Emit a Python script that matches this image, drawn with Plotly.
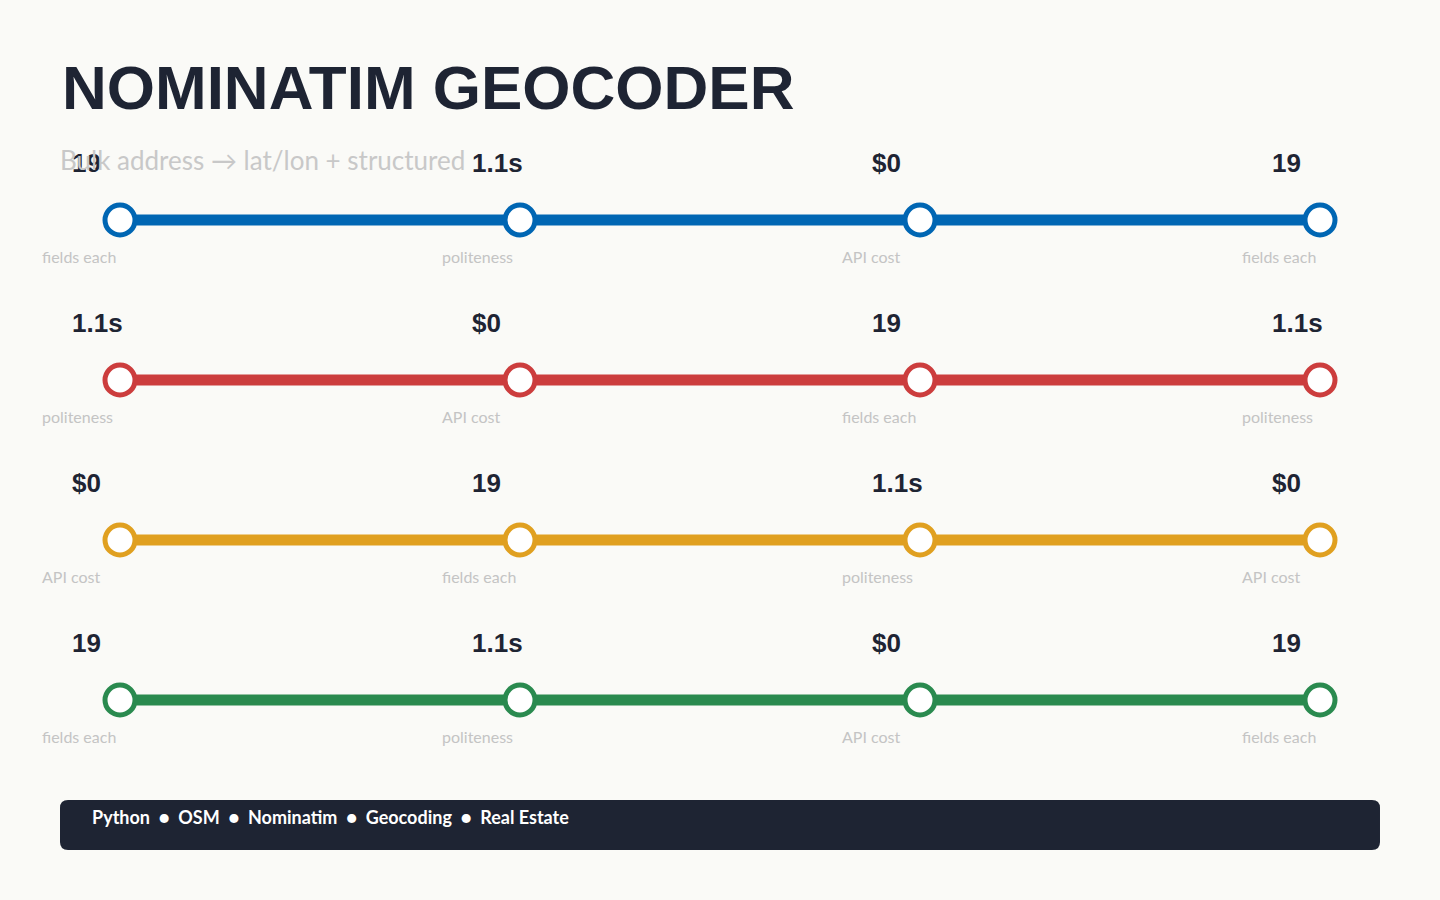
import plotly.graph_objects as go

values = ["19", "1.1s", "$0"]
labels = ["fields each", "politeness", "API cost"]
colors = ["#0066b3", "#cc3d3d", "#e0a020", "#2a8a4f"]
n_stops = 4
tags = ["Python", "OSM", "Nominatim", "Geocoding", "Real Estate"]
title = "NOMINATIM GEOCODER"
subtitle = "Bulk address → lat/lon + structured"

W, H = 1440, 900
fig = go.Figure()
for r, c in enumerate(colors):
    xs = list(range(n_stops))
    ys = [r] * n_stops
    fig.add_trace(go.Scatter(x=xs, y=ys, mode="lines", line=dict(color=c, width=11),
                             hoverinfo="skip", showlegend=False))
    fig.add_trace(go.Scatter(x=xs, y=ys, mode="markers",
                             marker=dict(size=30, color="white", line=dict(color=c, width=5)),
                             hoverinfo="skip", showlegend=False))
    for i in xs:
        k = (r + i) % 3
        fig.add_annotation(x=i, y=r, text="<b>" + values[k] + "</b>", showarrow=False, xanchor="left",
                           yanchor="middle", xshift=-50, yshift=57,
                           font=dict(family="Liberation Sans", size=26, color="#1e2433"))
        fig.add_annotation(x=i, y=r, text=labels[k], showarrow=False, xanchor="left",
                           yanchor="middle", xshift=-80, yshift=-36,
                           font=dict(family="Lato", size=16, color="#c4c4c4"))

fig.add_annotation(x=60 / W, y=1 - 88 / H, xref="paper", yref="paper", text="<b>" + title + "</b>",
                   showarrow=False, xanchor="left", yanchor="middle",
                   font=dict(family="Liberation Sans", size=62, color="#1e2433"))
fig.add_annotation(x=58 / W, y=1 - 160 / H, xref="paper", yref="paper", text=subtitle,
                   showarrow=False, xanchor="left", yanchor="middle",
                   font=dict(family="Lato", size=26, color="#c8c8c8"))

# rounded footer bar, pixel-based path in paper coords
x0, x1, y0, y1, rr = 60, 1380, 800, 850, 8
def P(x, y):
    return f"{x / W:.5f},{1 - y / H:.5f}"
path = (f"M {P(x0 + rr, y0)} L {P(x1 - rr, y0)} Q {P(x1, y0)} {P(x1, y0 + rr)} "
        f"L {P(x1, y1 - rr)} Q {P(x1, y1)} {P(x1 - rr, y1)} L {P(x0 + rr, y1)} "
        f"Q {P(x0, y1)} {P(x0, y1 - rr)} L {P(x0, y0 + rr)} Q {P(x0, y0)} {P(x0 + rr, y0)} Z")
fig.add_shape(type="path", xref="paper", yref="paper", path=path,
              fillcolor="#1e2433", line=dict(width=0), layer="below")
fig.add_annotation(x=90 / W, y=1 - 817 / H, xref="paper", yref="paper",
                   text="<b>" + "  ●  ".join(tags) + "</b>", showarrow=False,
                   xanchor="left", yanchor="middle",
                   font=dict(family="Lato", size=18, color="white"))

fig.update_layout(width=W, height=H, margin=dict(l=0, r=0, t=0, b=0),
                  paper_bgcolor="#fafaf7", plot_bgcolor="#fafaf7",
                  xaxis=dict(range=[-120 / 400, (W - 120) / 400], visible=False, fixedrange=True),
                  yaxis=dict(range=[(H - 220) / 160, -220 / 160], visible=False, fixedrange=True))
fig.write_html("out.html", config={"displayModeBar": False},
               post_script="document.body.style.margin='0';document.body.style.background='#fafaf7';")
